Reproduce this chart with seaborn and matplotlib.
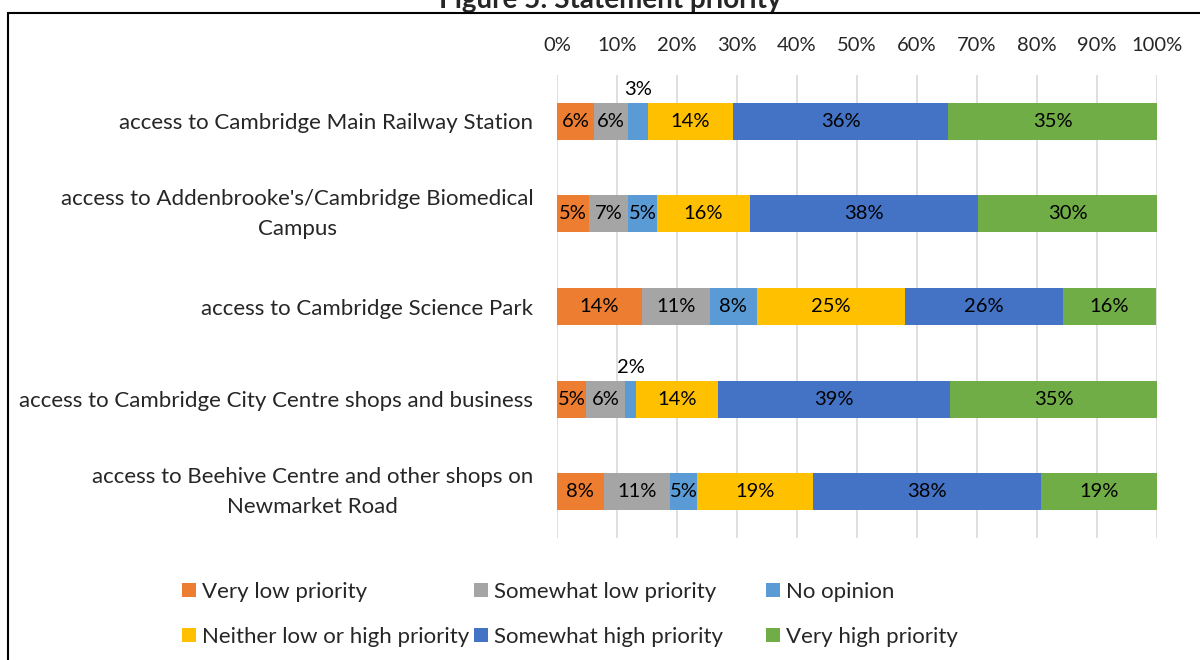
import matplotlib
matplotlib.use("Agg")
import matplotlib.pyplot as plt
import numpy as np
import pandas as pd
import seaborn as sns
from matplotlib.patches import Patch, Rectangle

# ---------------- data ----------------
categories = [
    "access to Cambridge Main Railway Station",
    "access to Addenbrooke's/Cambridge Biomedical\nCampus",
    "access to Cambridge Science Park",
    "access to Cambridge City Centre shops and business",
    "access to Beehive Centre and other shops on\nNewmarket Road",
]
series_names = [
    "Very low priority",
    "Somewhat low priority",
    "No opinion",
    "Neither low or high priority",
    "Somewhat high priority",
    "Very high priority",
]
very_low = [6.2, 5.3, 14.1, 4.9, 7.8]
somewhat_low = [5.7, 6.6, 11.4, 6.4, 11.0]
no_opinion = [3.2, 4.7, 7.8, 1.9, 4.6]
neither = [14.3, 15.6, 24.7, 13.7, 19.2]
somewhat_high = [35.8, 38.0, 26.3, 38.6, 38.1]
very_high = [34.8, 29.9, 15.6, 34.6, 19.4]
tick_values = [0, 10, 20, 30, 40, 50, 60, 70, 80, 90, 100]
tick_labels = ["0%", "10%", "20%", "30%", "40%", "50%", "60%", "70%", "80%", "90%", "100%"]
title = "Figure 5: Statement priority"

colors = ["#ED7D31", "#A5A5A5", "#5B9BD5", "#FFC000", "#4472C4", "#70AD47"]

series = [very_low, somewhat_low, no_opinion, neither, somewhat_high, very_high]

# ---------------- style ----------------
sns.set_style("white")
plt.rcParams["font.family"] = ["Lato", "DejaVu Sans"]
FS_TXT = 16     # category and legend text
FS_NUM = 14.5   # numbers (ticks, data labels)

fig = plt.figure(figsize=(12, 6.6), dpi=100)
ax = fig.add_axes([557 / 1200, 1 - 538 / 660, 600 / 1200, (538 - 75) / 660])

vals = np.array(series)          # shape (6, 5)
cum = np.cumsum(vals, axis=0)

# draw stacked bars: cumulative totals from the right-most segment back
for i in reversed(range(len(series))):
    df = pd.DataFrame({"category": categories, "value": cum[i]})
    sns.barplot(data=df, x="value", y="category", orient="h", color=colors[i],
                saturation=1, width=0.4, linewidth=0, ax=ax, zorder=2)

# data labels
for i in range(len(series)):
    for j in range(len(categories)):
        v = vals[i, j]
        left = cum[i, j] - v
        xc = left + v / 2
        yc = j - 0.34 if v < 3.5 else j
        ax.text(xc, yc, f"{v:.0f}%", ha="center", va="center", fontsize=FS_NUM,
                color="black", zorder=3)

ax.set_xlim(0, 100)
ax.set_ylim(4.5, -0.5)
ax.set_xticks(tick_values)
ax.set_xticklabels(tick_labels)
ax.xaxis.tick_top()
ax.tick_params(axis="x", length=0, pad=15, labelsize=FS_NUM)
ax.tick_params(axis="y", length=0, pad=17, labelsize=FS_TXT)
for lab in ax.get_yticklabels():
    lab.set_multialignment("center")
    lab.set_linespacing(1.6)
    if "\n" in lab.get_text():
        lab.set_verticalalignment("center")
ax.set_xlabel("")
ax.set_ylabel("")
ax.grid(axis="x", color="#D9D9D9", linewidth=1.2, zorder=0)
ax.set_axisbelow(True)
for s in ax.spines.values():
    s.set_visible(False)

# legend: three columns laid out with equal widths
handles = [Patch(facecolor=c, edgecolor="none") for c in colors]
col_x = [182 / 1200, 474 / 1200, 766 / 1200]
for k in range(3):
    fig.legend([handles[k], handles[k + 3]],
               [series_names[k], series_names[k + 3]],
               loc="upper left", bbox_to_anchor=(col_x[k], 1 - 582 / 660),
               frameon=False, fontsize=FS_TXT, handlelength=0.63, handleheight=0.63,
               handletextpad=0.25, labelspacing=1.12, borderpad=0,
               borderaxespad=0)

# title (cut off at the top edge, as in the source) and outer frame
fig.text(610 / 1200, 1 - 8 / 660, title, ha="center", va="baseline",
         fontsize=20, fontweight="bold")
fig.patches.append(Rectangle((8 / 1200, -1), 2, 1 + (1 - 13 / 660),
                             transform=fig.transFigure, fill=False,
                             edgecolor="black", linewidth=1.5, zorder=5))

fig.savefig("out.png", dpi=100)
